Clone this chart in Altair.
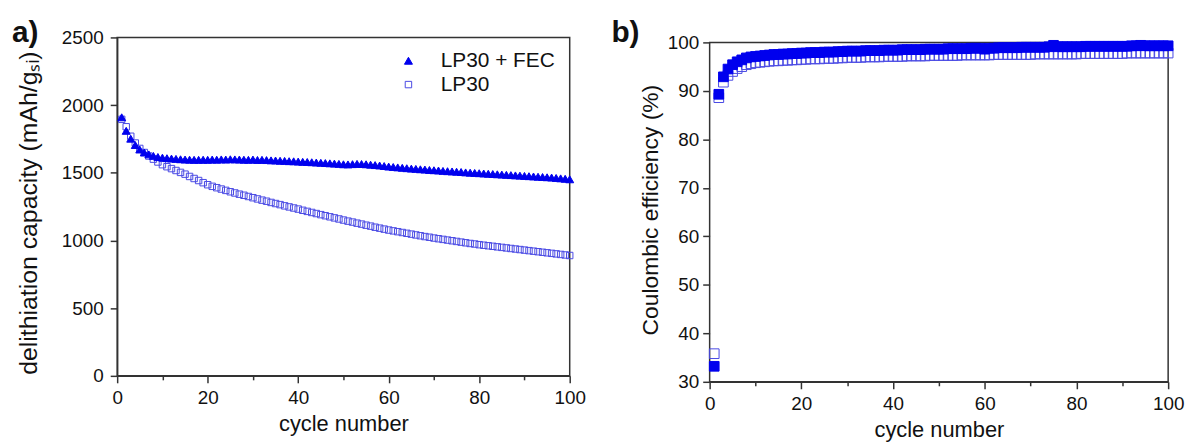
import altair as alt
import pandas as pd

cycles = list(range(1, 101))
series_names = ["LP30 + FEC", "LP30"]

cap_fec = [
    1910, 1810, 1752, 1705, 1672, 1650, 1636, 1625, 1617, 1612,
    1608, 1605, 1603, 1600, 1598, 1597, 1596, 1596, 1597, 1596,
    1598, 1597, 1599, 1598, 1600, 1599, 1598, 1597, 1596, 1598,
    1595, 1596, 1594, 1592, 1591, 1589, 1588, 1586, 1585, 1583,
    1581, 1580, 1578, 1576, 1574, 1572, 1570, 1568, 1566, 1563,
    1562, 1564, 1566, 1565, 1563, 1560, 1557, 1554, 1550, 1546,
    1543, 1540, 1537, 1534, 1531, 1529, 1526, 1524, 1521, 1519,
    1517, 1514, 1512, 1510, 1508, 1506, 1503, 1501, 1499, 1497,
    1495, 1493, 1491, 1489, 1487, 1485, 1483, 1481, 1479, 1477,
    1475, 1473, 1471, 1469, 1467, 1465, 1462, 1459, 1456, 1452,
]
cap_lp30 = [
    1895, 1840, 1770, 1720, 1680, 1650, 1624, 1601, 1580, 1560,
    1545, 1531, 1517, 1503, 1490, 1473, 1458, 1443, 1427, 1412,
    1400, 1390, 1380, 1370, 1360, 1351, 1342, 1334, 1325, 1316,
    1307, 1298, 1290, 1281, 1273, 1265, 1256, 1248, 1240, 1232,
    1223, 1215, 1207, 1199, 1191, 1183, 1175, 1167, 1159, 1151,
    1143, 1136, 1128, 1121, 1113, 1106, 1098, 1091, 1084, 1077,
    1071, 1065, 1059, 1053, 1047, 1041, 1035, 1029, 1024, 1018,
    1013, 1008, 1003, 998, 993, 988, 983, 978, 974, 969,
    965, 961, 957, 953, 949, 945, 941, 937, 933, 929,
    925, 921, 917, 913, 909, 905, 901, 897, 893, 889,
]
ce_fec = [
    33.2, 89.3, 92.9, 94.5, 95.4, 96.0, 96.4, 96.8, 97.0, 97.1,
    97.2, 97.3, 97.4, 97.5, 97.5, 97.6, 97.6, 97.7, 97.7, 97.8,
    97.8, 97.9, 97.9, 97.9, 98.0, 98.0, 98.0, 98.1, 98.1, 98.2,
    98.2, 98.2, 98.2, 98.3, 98.3, 98.3, 98.3, 98.4, 98.4, 98.4,
    98.4, 98.5, 98.5, 98.5, 98.5, 98.5, 98.6, 98.6, 98.6, 98.6,
    98.6, 98.7, 98.7, 98.7, 98.7, 98.7, 98.8, 98.8, 98.8, 98.6,
    98.8, 98.8, 98.9, 98.9, 98.9, 98.9, 98.9, 99.0, 99.0, 99.0,
    99.0, 99.0, 99.0, 99.1, 99.4, 99.1, 99.1, 99.1, 99.1, 99.1,
    99.1, 99.2, 99.2, 99.2, 99.2, 99.2, 99.2, 99.2, 99.2, 99.2,
    99.2, 99.3, 99.3, 99.4, 99.3, 99.3, 99.3, 99.3, 99.3, 99.3,
]
ce_lp30 = [
    35.8, 88.6, 91.8, 93.2, 94.0, 94.6, 95.0, 95.4, 95.6, 95.8,
    95.9, 96.0, 96.1, 96.2, 96.2, 96.3, 96.3, 96.4, 96.4, 96.5,
    96.5, 96.6, 96.6, 96.6, 96.7, 96.7, 96.7, 96.8, 96.8, 96.9,
    96.9, 96.9, 96.9, 97.0, 97.0, 97.0, 97.0, 97.1, 97.1, 97.1,
    97.1, 97.1, 97.2, 97.2, 97.2, 97.2, 97.2, 97.3, 97.3, 97.3,
    97.3, 97.3, 97.3, 97.3, 97.4, 97.4, 97.4, 97.4, 97.4, 97.4,
    97.4, 97.5, 97.5, 97.5, 97.5, 97.5, 97.5, 97.5, 97.5, 97.5,
    97.6, 97.6, 97.6, 97.6, 97.6, 97.6, 97.6, 97.6, 97.6, 97.6,
    97.7, 97.7, 97.7, 97.7, 97.7, 97.7, 97.7, 97.7, 97.7, 97.7,
    97.8, 97.8, 97.8, 97.8, 97.8, 97.8, 97.8, 97.8, 97.8, 97.8,
]

x_ticks = list(range(0, 101, 10))
ya_ticks = list(range(0, 2501, 250))
yb_ticks = list(range(30, 101, 5))

FONT = "Liberation Sans"
BLUE = "#0000ee"
LIGHT = "#4a4ae4"
AXC = "#333333"
TXT = "#111111"

# plot-area sizes (px); panel b's plot sits B_SHIFT px lower than panel a's
A_W, A_H = 456, 341
B_W, B_H = 462, 342
B_SHIFT = 5
b_top = 100 + 70 * B_SHIFT / B_H   # scale headroom so that 100 lands B_SHIFT px below the top

df_a = pd.DataFrame({
    "cycle": cycles + cycles,
    "value": cap_lp30 + cap_fec,
    "series": ["LP30"] * 100 + ["LP30 + FEC"] * 100,
})
df_b = pd.DataFrame({
    "cycle": cycles + cycles,
    "value": ce_lp30 + ce_fec,
    "series": ["LP30"] * 100 + ["LP30 + FEC"] * 100,
})
one_row = pd.DataFrame({"k": [0]})


def tick_cond(expr, big, small):
    return {"condition": {"test": expr, "value": big}, "value": small}


def x_axis():
    return alt.Axis(
        values=x_ticks,
        format="d",
        labelExpr="datum.value % 20 === 0 ? datum.label : ''",
        tickSize=tick_cond("datum.value % 20 === 0", 7, 4),
        title="cycle number",
        titleFontSize=22,
        labelFlush=False,
        labelPadding=6,
        titlePadding=6,
    )


def frame(y0, y1):
    return alt.Chart(one_row).mark_rect(
        fill="transparent", stroke=AXC, strokeWidth=1.5
    ).encode(
        x=alt.X(datum=0), x2=alt.X2(datum=100),
        y=alt.Y(datum=y0), y2=alt.Y2(datum=y1),
    )


legend = alt.Legend(
    title=None,
    orient="none",
    legendX=283,
    legendY=13,
    padding=0,
    labelFontSize=21,
    labelFont=FONT,
    labelColor=TXT,
    labelOffset=22,
    rowPadding=2,
    symbolStrokeWidth=1,
)

shape_scale = alt.Scale(domain=series_names, range=["triangle-up", "square"])
stroke_scale = alt.Scale(domain=series_names, range=[BLUE, LIGHT])
fill_scale = alt.Scale(domain=series_names, range=[BLUE, "transparent"])
size_scale = alt.Scale(domain=series_names, range=[65, 42])

pts_a = alt.Chart(df_a).mark_point(opacity=1, strokeWidth=1).encode(
    x=alt.X("cycle:Q", scale=alt.Scale(domain=[0, 100], nice=False, zero=False), axis=x_axis()),
    y=alt.Y(
        "value:Q",
        scale=alt.Scale(domain=[0, 2500], nice=False, zero=False),
        axis=alt.Axis(
            values=ya_ticks,
            format="d",
            labelExpr="datum.value % 500 === 0 ? datum.label : ''",
            tickSize=tick_cond("datum.value % 500 === 0", 7, 4),
            title="delithiation capacity (mAh/g\u209b\u1d62)",
            titleFontSize=25,
            titleY=A_H / 2 + 6,
            labelFlush=False,
            labelPadding=7,
            titlePadding=20,
        ),
    ),
    shape=alt.Shape("series:N", scale=shape_scale, legend=legend),
    stroke=alt.Stroke("series:N", scale=stroke_scale, legend=legend),
    fill=alt.Fill("series:N", scale=fill_scale, legend=legend),
    size=alt.Size("series:N", scale=size_scale, legend=legend),
)

lab_a = alt.Chart(pd.DataFrame({"t": ["a)"]})).mark_text(
    font=FONT, fontSize=30, fontWeight="bold", align="left", baseline="alphabetic", color=TXT
).encode(x=alt.value(-106), y=alt.value(5), text="t:N")

panel_a = alt.layer(frame(0, 2500), pts_a, lab_a).properties(width=A_W, height=A_H)

pts_b = alt.Chart(df_b).mark_point(opacity=1, strokeWidth=1, size=95, shape="square").encode(
    x=alt.X("cycle:Q", scale=alt.Scale(domain=[0, 100], nice=False, zero=False), axis=x_axis()),
    y=alt.Y(
        "value:Q",
        scale=alt.Scale(domain=[30, b_top], nice=False, zero=False),
        axis=alt.Axis(
            values=yb_ticks,
            format="d",
            domain=False,
            labelExpr="datum.value % 10 === 0 ? datum.label : ''",
            tickSize=tick_cond("datum.value % 10 === 0", 7, 4),
            title="Coulombic efficiency (%)",
            titleFontSize=23,
            labelFlush=False,
            labelPadding=4,
            titlePadding=5,
        ),
    ),
    stroke=alt.Stroke("series:N", scale=stroke_scale, legend=None),
    fill=alt.Fill("series:N", scale=fill_scale, legend=None),
)

lab_b = alt.Chart(pd.DataFrame({"t": ["b)"]})).mark_text(
    font=FONT, fontSize=30, fontWeight="bold", align="left", baseline="alphabetic", color=TXT
).encode(x=alt.value(-99), y=alt.value(B_SHIFT), text="t:N")

panel_b = alt.layer(frame(30, 100), pts_b, lab_b).properties(width=B_W, height=B_H + B_SHIFT)

chart = (
    alt.hconcat(panel_a, panel_b, spacing=24)
    .properties(padding={"left": 3, "top": 8, "right": 2, "bottom": 0})
    .configure_view(stroke="transparent")
    .configure_axis(
        grid=False,
        domainColor=AXC,
        domainWidth=1.5,
        tickColor=AXC,
        tickWidth=1.5,
        labelFont=FONT,
        labelFontSize=19,
        labelColor=TXT,
        titleFont=FONT,
        titleFontWeight="normal",
        titleColor=TXT,
    )
)

chart.save("out.html", embed_options={"renderer": "svg", "actions": False})
